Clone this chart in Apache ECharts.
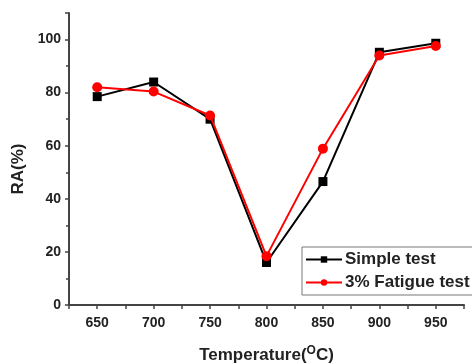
<!DOCTYPE html>
<html>
<head>
<meta charset="utf-8">
<script src="https://cdn.jsdelivr.net/npm/echarts@6/dist/echarts.min.js"></script>
<style>
  html, body { margin: 0; padding: 0; background: #fff; }
  #chart { width: 472px; height: 364px; }
</style>
</head>
<body>
<div id="chart"></div>
<script>
// Temperatures (°C) and reduction of area (%)
const temperatures = [650, 700, 750, 800, 850, 900, 950];
const simpleTest = [78.5, 84, 70, 16, 46.5, 95.2, 98.6];
const fatigueTest = [82, 80.4, 71.4, 18.4, 58.9, 94, 97.6];

const chart = echarts.init(document.getElementById("chart"));

const font = "Liberation Sans, Arial, sans-serif";
const axisColor = "#444";
const textColor = "#222";

const toPairs = vals => temperatures.map((t, i) => [t, vals[i]]);

const option = {
  animation: false,
  grid: { left: 69, right: 8, top: 13, bottom: 59, containLabel: false, outerBoundsMode: "none" },
  legend: {
    orient: "vertical",
    left: 302,
    top: 247,
    padding: [4, 10, 4, 3],
    itemGap: 6,
    itemWidth: 36,
    itemHeight: 8,
    borderColor: "#777",
    borderWidth: 1,
    textStyle: { fontFamily: font, fontWeight: "bold", fontSize: 17, color: textColor, padding: [0, 0, 0, -2] },
    data: ["Simple test", "3% Fatigue test"],
  },
  xAxis: {
    type: "value",
    min: 625,
    max: 975,
    interval: 25,
    name: "Temperature({sup|O}C)",
    nameLocation: "middle",
    nameGap: 40,
    nameTextStyle: {
      fontFamily: font,
      fontWeight: "bold",
      fontSize: 17,
      color: textColor,
      rich: {
        sup: { fontFamily: font, fontWeight: "bold", fontSize: 12, color: textColor, verticalAlign: "top", padding: [0, 0, 8, 0] },
      },
    },
    axisLine: { lineStyle: { color: axisColor, width: 2 } },
    axisTick: { show: true, length: 4, lineStyle: { color: axisColor, width: 1.5 } },
    axisLabel: {
      fontFamily: font,
      fontWeight: "bold",
      fontSize: 14,
      color: textColor,
      margin: 11,
      formatter: v => (v % 50 === 0 ? String(v) : ""),
    },
    splitLine: { show: false },
  },
  yAxis: {
    type: "value",
    min: 0,
    max: 110,
    interval: 20,
    name: "RA(%)",
    nameLocation: "middle",
    nameGap: 40,
    nameTextStyle: { fontFamily: font, fontWeight: "bold", fontSize: 17, color: textColor, padding: [0, 20, 0, 0] },
    axisLine: { show: true, lineStyle: { color: axisColor, width: 2 } },
    axisTick: { show: true, length: 4, lineStyle: { color: axisColor, width: 1.5 } },
    minorTick: { show: true, splitNumber: 2, length: 3, lineStyle: { color: axisColor, width: 1.5 } },
    axisLabel: {
      fontFamily: font,
      fontWeight: "bold",
      fontSize: 14,
      color: textColor,
      margin: 8,
      showMaxLabel: false,
      formatter: v => (v % 20 === 0 ? String(v) : ""),
    },
    splitLine: { show: false },
  },
  series: [
    {
      name: "Simple test",
      type: "line",
      data: toPairs(simpleTest),
      symbol: "rect",
      symbolSize: 9,
      itemStyle: { color: "#000" },
      lineStyle: { color: "#000", width: 2 },
      z: 2,
    },
    {
      name: "3% Fatigue test",
      type: "line",
      data: toPairs(fatigueTest),
      symbol: "circle",
      symbolSize: 10,
      itemStyle: { color: "#ff0000" },
      lineStyle: { color: "#ff0000", width: 2 },
      z: 3,
    },
  ],
};

chart.setOption(option);
</script>
</body>
</html>
